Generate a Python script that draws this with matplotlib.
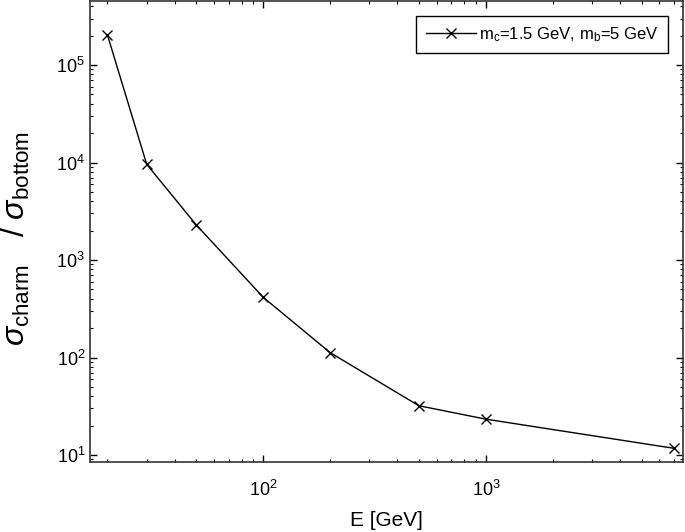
import matplotlib
matplotlib.use('Agg')
import matplotlib.pyplot as plt

# energies [GeV] and charm / bottom cross-section ratio
energy = [20, 30, 50, 100, 200, 500, 1000, 7000]
ratio = [2.03e5, 9.6e3, 2.3e3, 415, 112, 32, 23.3, 11.7]
legend_label = r'm$_{\rm c}$=1.5 GeV, m$_{\rm b}$=5 GeV'

plt.rcParams['font.family'] = ['Liberation Sans', 'DejaVu Sans']
plt.rcParams['mathtext.fontset'] = 'custom'
plt.rcParams['mathtext.rm'] = 'Liberation Sans'
plt.rcParams['mathtext.it'] = 'Liberation Sans:italic'
plt.rcParams['mathtext.bf'] = 'Liberation Sans:bold'

fig = plt.figure(figsize=(6.85, 5.32), dpi=100)
ax = fig.add_axes([0.1314, 0.1321, 0.8656, 0.8659])

ax.plot(energy, ratio, color='black', lw=1.0, marker='x', ms=7, mew=1.0,
        label=legend_label)

ax.set_xscale('log')
ax.set_yscale('log')
ax.set_xlim(16.7, 7660)
ax.set_ylim(8.53, 4.53e5)

ax.set_xlabel('E [GeV]', fontsize=15, labelpad=8)
ax.set_ylabel(r'$\sigma_{\rm charm}$   / $\sigma_{\rm bottom}$', fontsize=23)
ax.yaxis.set_label_coords(-0.098, 0.485)

ax.tick_params(which='both', direction='in', top=True, right=True, labelsize=13)
ax.tick_params(axis='x', which='major', pad=13)
ax.tick_params(which='major', length=5, width=1)
ax.tick_params(which='minor', length=2.5, width=0.8)
for s in ax.spines.values():
    s.set_linewidth(1.2)
    s.set_color('#333333')

leg = ax.legend(loc='upper right', fontsize=12, fancybox=False, framealpha=1,
                edgecolor='black', handlelength=3,
                borderpad=0.55, handletextpad=0.2, borderaxespad=0.9)
leg.get_frame().set_linewidth(1.0)

fig.savefig('out.png', dpi=100)
